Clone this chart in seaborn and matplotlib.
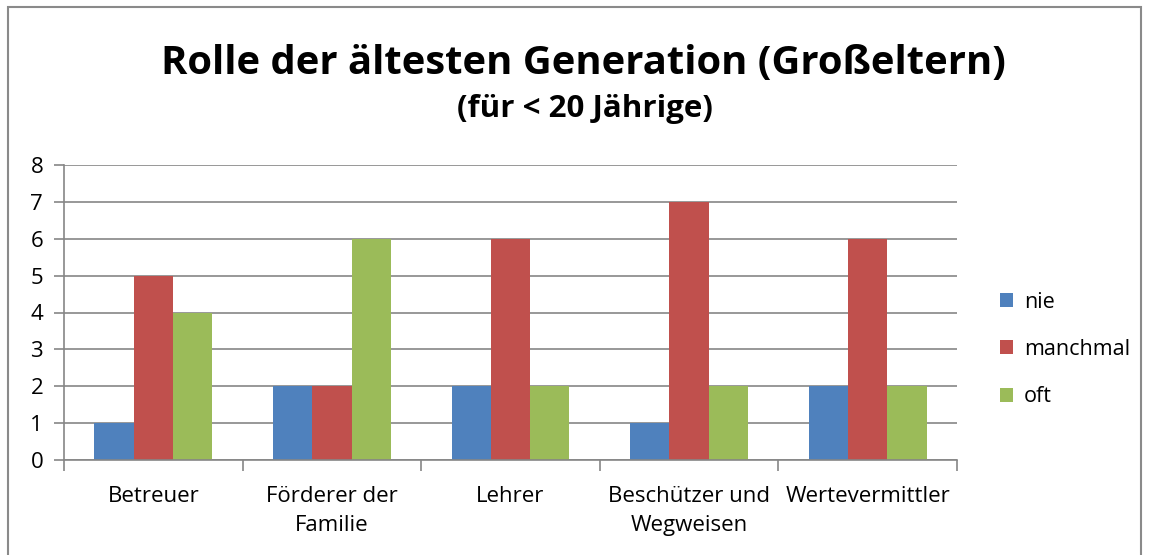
import matplotlib
matplotlib.use('Agg')
import matplotlib.pyplot as plt
from matplotlib.patches import Rectangle
import seaborn as sns
import pandas as pd

categories = ['Betreuer', 'Förderer der\nFamilie', 'Lehrer', 'Beschützer und\nWegweisen', 'Wertevermittler']
series = ['nie', 'manchmal', 'oft']
nie = [1, 2, 2, 1, 2]
manchmal = [5, 2, 6, 7, 6]
oft = [4, 6, 2, 2, 2]
colors = ['#4F81BD', '#C0504D', '#9BBB59']

df = pd.DataFrame({
    'Kategorie': categories * 3,
    'Serie': ['nie'] * 5 + ['manchmal'] * 5 + ['oft'] * 5,
    'Wert': nie + manchmal + oft,
})

sns.set_style('white')
plt.rcParams['font.family'] = ['Open Sans', 'DejaVu Sans']
plt.rcParams['text.color'] = 'black'
plt.rcParams['xtick.color'] = 'black'
plt.rcParams['ytick.color'] = 'black'

fig = plt.figure(figsize=(11.51, 5.55), dpi=100)
ax = fig.add_axes([64 / 1151, 1 - 460 / 555, (957 - 64) / 1151, (460 - 165) / 555])

sns.barplot(data=df, x='Kategorie', y='Wert', hue='Serie', order=categories,
            hue_order=series, palette=colors, width=0.66, saturation=1,
            edgecolor='none', linewidth=0, ax=ax)

grid_c = '#868686'
ax.set_ylim(0, 8)
ax.set_xlim(-0.5, 4.5)
ax.set_yticks(range(0, 9))
ax.yaxis.grid(True, color=grid_c, linewidth=1.2)
ax.set_axisbelow(True)
ax.set_xlabel('')
ax.set_ylabel('')
for s in ['top', 'right']:
    ax.spines[s].set_visible(False)
for s in ['left', 'bottom']:
    ax.spines[s].set_color(grid_c)
    ax.spines[s].set_linewidth(1.2)

ax.tick_params(axis='y', which='major', direction='out', length=7, color=grid_c,
               width=1.2, labelsize=16, labelcolor='black', pad=8, left=True)
ax.set_xticks(range(5))
ax.set_xticklabels(categories, fontsize=16, linespacing=1.5, va='top')
ax.tick_params(axis='x', which='major', length=0, pad=19, labelcolor='black')
ax.set_xticks([-0.5, 0.5, 1.5, 2.5, 3.5, 4.5], minor=True)
ax.tick_params(axis='x', which='minor', direction='out', length=8, color=grid_c,
               width=1.2, bottom=True)

leg = ax.legend(loc='center left', bbox_to_anchor=(1.026, 0.375), frameon=False,
                fontsize=15.5, handlelength=0.62, handleheight=0.62,
                handletextpad=0.5, labelspacing=1.22)

fig.text(583 / 1151, 1 - 63 / 555, 'Rolle der ältesten Generation (Großeltern)',
         ha='center', va='center', fontsize=28.8, fontweight='bold')
fig.text(585 / 1151, 1 - 109 / 555, '(für < 20 Jährige)',
         ha='center', va='center', fontsize=22.5, fontweight='bold')

fig.patches.append(Rectangle((8 / 1151, -0.02), (1141 - 8) / 1151, 1 - 7 / 555 + 0.02,
                             transform=fig.transFigure, fill=False,
                             edgecolor='#8a8a8a', linewidth=1.5))

fig.savefig('out.png', dpi=100)
